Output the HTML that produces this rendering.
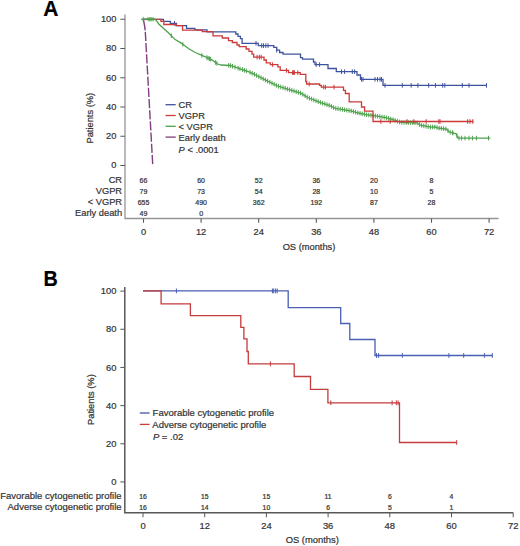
<!DOCTYPE html>
<html><head><meta charset="utf-8"><title>Kaplan-Meier</title>
<style>
html,body{margin:0;padding:0;background:#fff;}
body{width:520px;height:546px;overflow:hidden;}
svg{display:block;font-family:"Liberation Sans", sans-serif;}
text{stroke:#3a3a3a;stroke-width:0.22px;paint-order:stroke;}
</style></head><body>
<svg width="520" height="546" viewBox="0 0 520 546">
<rect width="520" height="546" fill="#fff"/>
<text transform="translate(43.3,16) scale(1,1.06)" font-weight="bold" font-size="21" fill="#000" stroke="#000" stroke-width="0.3">A</text>
<path d="M125.0,14.5 V218.5 H498.5" fill="none" stroke="#959595" stroke-width="1.3"/>
<text x="116.4" y="22.20" text-anchor="end" font-size="9.3" fill="#333333">100</text>
<text x="116.4" y="51.44" text-anchor="end" font-size="9.3" fill="#333333">80</text>
<text x="116.4" y="80.68" text-anchor="end" font-size="9.3" fill="#333333">60</text>
<text x="116.4" y="109.92" text-anchor="end" font-size="9.3" fill="#333333">40</text>
<text x="116.4" y="139.16" text-anchor="end" font-size="9.3" fill="#333333">20</text>
<text x="116.4" y="168.40" text-anchor="end" font-size="9.3" fill="#333333">0</text>
<path d="M120.3,19.30 H125.0 M120.3,48.54 H125.0 M120.3,77.78 H125.0 M120.3,107.02 H125.0 M120.3,136.26 H125.0 M120.3,165.50 H125.0 " stroke="#5a5a5a" stroke-width="1.1"/>
<text x="143.50" y="234.6" text-anchor="middle" font-size="9.3" fill="#333333">0</text>
<text x="201.10" y="234.6" text-anchor="middle" font-size="9.3" fill="#333333">12</text>
<text x="258.70" y="234.6" text-anchor="middle" font-size="9.3" fill="#333333">24</text>
<text x="316.30" y="234.6" text-anchor="middle" font-size="9.3" fill="#333333">36</text>
<text x="373.90" y="234.6" text-anchor="middle" font-size="9.3" fill="#333333">48</text>
<text x="431.50" y="234.6" text-anchor="middle" font-size="9.3" fill="#333333">60</text>
<text x="489.10" y="234.6" text-anchor="middle" font-size="9.3" fill="#333333">72</text>
<path d="M143.50,218.5 V222.8 M201.10,218.5 V222.8 M258.70,218.5 V222.8 M316.30,218.5 V222.8 M373.90,218.5 V222.8 M431.50,218.5 V222.8 M489.10,218.5 V222.8 " stroke="#5a5a5a" stroke-width="1.1"/>
<text x="309" y="250.3" text-anchor="middle" font-size="9.3" fill="#333333">OS (months)</text>
<text transform="translate(93.3,118.2) rotate(-90)" text-anchor="middle" font-size="9.3" fill="#333333">Patients (%)</text>
<text x="122.1" y="183.40" text-anchor="end" font-size="9.3" fill="#333333">CR</text>
<text x="143.50" y="182.80" text-anchor="middle" font-size="7" fill="#333">66</text>
<text x="201.10" y="182.80" text-anchor="middle" font-size="7" fill="#333">60</text>
<text x="258.70" y="182.80" text-anchor="middle" font-size="7" fill="#333">52</text>
<text x="316.30" y="182.80" text-anchor="middle" font-size="7" fill="#333">36</text>
<text x="373.90" y="182.80" text-anchor="middle" font-size="7" fill="#333">20</text>
<text x="431.50" y="182.80" text-anchor="middle" font-size="7" fill="#333">8</text>
<text x="122.1" y="194.30" text-anchor="end" font-size="9.3" fill="#333333">VGPR</text>
<text x="143.50" y="193.70" text-anchor="middle" font-size="7" fill="#333">79</text>
<text x="201.10" y="193.70" text-anchor="middle" font-size="7" fill="#333">73</text>
<text x="258.70" y="193.70" text-anchor="middle" font-size="7" fill="#333">54</text>
<text x="316.30" y="193.70" text-anchor="middle" font-size="7" fill="#333">28</text>
<text x="373.90" y="193.70" text-anchor="middle" font-size="7" fill="#333">10</text>
<text x="431.50" y="193.70" text-anchor="middle" font-size="7" fill="#333">5</text>
<text x="122.1" y="205.20" text-anchor="end" font-size="9.3" fill="#333333">< VGPR</text>
<text x="143.50" y="204.60" text-anchor="middle" font-size="7" fill="#333">655</text>
<text x="201.10" y="204.60" text-anchor="middle" font-size="7" fill="#333">490</text>
<text x="258.70" y="204.60" text-anchor="middle" font-size="7" fill="#333">362</text>
<text x="316.30" y="204.60" text-anchor="middle" font-size="7" fill="#333">192</text>
<text x="373.90" y="204.60" text-anchor="middle" font-size="7" fill="#333">87</text>
<text x="431.50" y="204.60" text-anchor="middle" font-size="7" fill="#333">28</text>
<text x="122.1" y="216.10" text-anchor="end" font-size="9.3" fill="#333333">Early death</text>
<text x="143.50" y="215.50" text-anchor="middle" font-size="7" fill="#333">49</text>
<text x="201.10" y="215.50" text-anchor="middle" font-size="7" fill="#333">0</text>
<path d="M165.5,104.70 H175.7" stroke="#3e539e" stroke-width="1.3"/>
<text x="178.6" y="108.00" font-size="9.3" fill="#333333">CR</text>
<path d="M165.5,115.50 H175.7" stroke="#cc3a3a" stroke-width="1.3"/>
<text x="178.6" y="119.00" font-size="9.3" fill="#333333">VGPR</text>
<path d="M165.5,126.30 H175.7" stroke="#4ea24e" stroke-width="1.3"/>
<text x="178.6" y="130.00" font-size="9.3" fill="#333333">< VGPR</text>
<path d="M165.5,137.10 H175.7" stroke="#7f3f80" stroke-width="1.3"/>
<text x="178.6" y="141.00" font-size="9.3" fill="#333333">Early death</text>
<text x="178.6" y="153.00" font-size="9.3" fill="#333333"><tspan font-style="italic">P</tspan> &lt; .0001</text>
<path d="M143.5,19.3 L155.6,19.6 L158.8,24.0 L163.6,28.5 L168.4,32.8 L171.8,36.2 L175.2,39.6 L180.0,42.4 L184.8,45.8 L189.6,49.2 L195.3,52.5 L202.0,55.4 L211.5,59.6 L217.7,64.0 L221.0,65.0 L230.4,65.5 L240.0,68.8 L247.7,71.4 L253.0,73.6 L266.2,80.4 L277.7,86.0 L289.2,89.6 L300.8,93.1 L307.7,97.5 L320.0,102.3 L329.2,105.4 L335.4,108.3 L350.8,110.8 L358.5,113.0 L366.2,114.6 L377.0,116.2 L384.6,117.4 L392.3,119.4 L400.8,122.4 L417.0,122.8 L420.4,125.2 L430.8,127.2 L435.4,126.8 L438.0,128.0 L446.8,129.0 L448.8,131.8 L456.2,133.8 L457.9,138.1 L490.4,138.1" fill="none" stroke="#4ea24e" stroke-width="1.3"/>
<path d="M171.3,33.4 V38.0 M182.8,42.1 V46.7 M201.9,53.1 V57.7 M206.9,55.3 V59.9 M208.1,55.8 V60.4 M209.4,56.4 V61.0 M210.6,56.9 V61.5 M215.6,60.2 V64.8 M216.9,61.1 V65.7 M228.7,63.1 V67.7 M230.6,63.3 V67.9 M232.5,63.9 V68.5 M235.0,64.8 V69.4 M238.1,65.8 V70.4 M240.0,66.5 V71.1 M242.5,67.3 V71.9 M244.4,68.0 V72.6 M246.3,68.6 V73.2 M250.0,70.1 V74.7 M252.2,71.0 V75.6 M254.4,72.0 V76.6 M256.6,73.2 V77.8 M258.8,74.3 V78.9 M261.0,75.4 V80.0 M263.2,76.6 V81.2 M265.4,77.7 V82.3 M267.6,78.8 V83.4 M269.8,79.9 V84.5 M272.0,80.9 V85.5 M274.2,82.0 V86.6 M276.4,83.1 V87.7 M278.6,84.0 V88.6 M280.8,84.7 V89.3 M283.0,85.4 V90.0 M285.2,86.0 V90.6 M287.4,86.7 V91.3 M289.6,87.4 V92.0 M291.8,88.1 V92.7 M294.0,88.7 V93.3 M296.2,89.4 V94.0 M298.4,90.1 V94.7 M300.6,90.7 V95.3 M302.8,92.1 V96.7 M305.0,93.5 V98.1 M307.2,94.9 V99.5 M309.4,95.9 V100.5 M311.6,96.7 V101.3 M313.8,97.6 V102.2 M316.0,98.4 V103.0 M318.2,99.3 V103.9 M320.4,100.1 V104.7 M322.6,100.9 V105.5 M324.8,101.6 V106.2 M327.0,102.4 V107.0 M329.2,103.1 V107.7 M331.4,104.1 V108.7 M333.6,105.2 V109.8 M335.8,106.1 V110.7 M338.0,106.4 V111.0 M340.2,106.8 V111.4 M342.4,107.1 V111.7 M344.6,107.5 V112.1 M346.8,107.9 V112.5 M349.0,108.2 V112.8 M351.2,108.6 V113.2 M353.4,109.2 V113.8 M355.6,109.9 V114.5 M357.8,110.5 V115.1 M360.0,111.0 V115.6 M362.2,111.5 V116.1 M364.4,111.9 V116.5 M366.6,112.4 V117.0 M368.8,112.7 V117.3 M371.0,113.0 V117.6 M373.2,113.3 V117.9 M375.4,113.7 V118.3 M377.6,114.0 V118.6 M379.8,114.3 V118.9 M382.0,114.7 V119.3 M384.2,115.0 V119.6 M386.4,115.6 V120.2 M388.6,116.1 V120.7 M390.8,116.7 V121.3 M393.0,117.3 V121.9 M395.2,118.1 V122.7 M397.4,118.9 V123.5 M399.6,119.7 V124.3 M401.8,120.1 V124.7 M404.0,120.2 V124.8 M406.2,120.2 V124.8 M408.4,120.3 V124.9 M410.6,120.3 V124.9 M412.8,120.4 V125.0 M415.0,120.5 V125.1 M417.2,120.6 V125.2 M419.4,122.2 V126.8 M421.6,123.1 V127.7 M423.8,123.6 V128.2 M426.0,124.0 V128.6 M428.2,124.4 V129.0 M430.4,124.8 V129.4 M432.6,124.7 V129.3 M434.8,124.6 V129.2 M437.0,125.2 V129.8 M439.2,125.8 V130.4 M441.4,126.1 V130.7 M443.6,126.3 V130.9 M445.8,126.6 V131.2 M448.0,128.4 V133.0 M450.2,129.9 V134.5 M452.4,130.5 V135.1 M452.9,130.6 V135.2 M456.9,133.3 V137.9 M459.0,135.8 V140.4 M461.6,135.8 V140.4 M465.0,135.8 V140.4 M469.0,135.8 V140.4 M472.4,135.8 V140.4 M476.4,135.8 V140.4 M488.5,135.8 V140.4 " stroke="#4ea24e" stroke-width="1"/>
<path d="M143.5,19.3 H163.4 V21.4 H170.3 V23.3 H176.5 V25.6 H186.5 V28.3 H194.9 V29.8 H207.0 V31.8 H235.8 V34.0 H238.0 V36.3 H240.4 V38.7 H242.1 V43.3 H258.3 V45.6 H273.8 V47.3 H276.7 V50.2 H279.6 V52.5 H283.0 V54.2 H300.5 V57.6 H302.5 V59.2 H313.5 V62.0 H315.0 V64.6 H328.0 V68.5 H336.3 V71.7 H357.0 V75.0 H360.5 V79.3 H383.0 V85.4 H486.5" fill="none" stroke="#3e539e" stroke-width="1.3"/>
<path d="M174.5,21.0 V25.6 M256.0,41.0 V45.6 M261.7,43.3 V47.9 M263.5,43.3 V47.9 M265.8,43.3 V47.9 M268.0,43.3 V47.9 M276.7,47.9 V52.5 M316.2,62.3 V66.9 M319.6,62.3 V66.9 M341.5,69.4 V74.0 M344.6,69.4 V74.0 M352.3,69.4 V74.0 M354.6,69.4 V74.0 M361.5,77.0 V81.6 M363.0,77.0 V81.6 M375.0,77.0 V81.6 M377.5,77.0 V81.6 M380.0,77.0 V81.6 M381.5,77.0 V81.6 M385.0,83.1 V87.7 M402.3,83.1 V87.7 M411.2,83.1 V87.7 M417.9,83.1 V87.7 M428.7,83.1 V87.7 M435.4,83.1 V87.7 M442.7,83.1 V87.7 M444.8,83.1 V87.7 M462.3,83.1 V87.7 M469.0,83.1 V87.7 M486.5,83.1 V87.7 " stroke="#3e539e" stroke-width="1"/>
<path d="M143.5,19.3 H160.9 V21.4 H163.8 V24.5 H176.0 V25.6 H182.5 V30.2 H202.3 V31.6 H213.0 V35.8 H222.3 V38.0 H228.5 V40.6 H232.3 V42.5 H237.0 V45.0 H239.2 V46.7 H246.2 V49.0 H249.0 V51.3 H252.0 V54.2 H253.7 V57.1 H264.0 V60.0 H266.3 V62.9 H270.4 V64.6 H277.9 V66.9 H280.2 V70.4 H288.5 V72.6 H300.2 V74.4 H305.8 V81.5 H306.6 V84.0 H319.6 V85.4 H321.3 V87.1 H343.5 V90.4 H345.4 V93.5 H349.2 V101.8 H361.5 V107.0 H364.6 V111.2 H373.0 V121.5 H473.5" fill="none" stroke="#cc3a3a" stroke-width="1.3"/>
<path d="M257.1,54.8 V59.4 M259.4,54.8 V59.4 M261.2,54.8 V59.4 M272.6,62.3 V66.9 M286.4,68.1 V72.7 M292.6,70.3 V74.9 M293.6,70.3 V74.9 M294.4,70.3 V74.9 M297.8,70.3 V74.9 M309.2,81.7 V86.3 M323.7,84.8 V89.4 M325.4,84.8 V89.4 M334.0,84.8 V89.4 M380.8,119.2 V123.8 M390.2,119.2 V123.8 M407.0,119.2 V123.8 M413.8,119.2 V123.8 M426.2,119.2 V123.8 M438.8,119.2 V123.8 M440.0,119.2 V123.8 M467.7,119.2 V123.8 M470.0,119.2 V123.8 M472.8,119.2 V123.8 " stroke="#cc3a3a" stroke-width="1"/>
<path d="M143.3,19.0 Q144.6,25 145.2,30.3" fill="none" stroke="#7f3f80" stroke-width="1.4"/>
<path d="M145.3,31.9 L152.7,164.2" fill="none" stroke="#7f3f80" stroke-width="1.4" stroke-dasharray="9.2,2.0"/>
<path d="M141.0,19.2 H156.2" fill="none" stroke="#4ea24e" stroke-width="1.3"/>
<path d="M143.2,16.8 V21.6 M148.1,17.1 V21.3 M149.6,17.1 V21.3 M150.8,17.1 V21.3 M151.9,17.1 V21.3 M153.2,17.1 V21.3" fill="none" stroke="#4ea24e" stroke-width="0.9"/>
<text transform="translate(43.6,286.2) scale(0.94,1.09)" font-weight="bold" font-size="21" fill="#000" stroke="#000" stroke-width="0.3">B</text>
<path d="M124.8,287 V512.7 H513.2" fill="none" stroke="#585858" stroke-width="1.5"/>
<text x="116.4" y="294.30" text-anchor="end" font-size="9.4" fill="#333333">100</text>
<text x="116.4" y="332.47" text-anchor="end" font-size="9.4" fill="#333333">80</text>
<text x="116.4" y="370.64" text-anchor="end" font-size="9.4" fill="#333333">60</text>
<text x="116.4" y="408.81" text-anchor="end" font-size="9.4" fill="#333333">40</text>
<text x="116.4" y="446.98" text-anchor="end" font-size="9.4" fill="#333333">20</text>
<text x="116.4" y="485.15" text-anchor="end" font-size="9.4" fill="#333333">0</text>
<path d="M120.3,291.10 H124.8 M120.3,329.27 H124.8 M120.3,367.44 H124.8 M120.3,405.61 H124.8 M120.3,443.78 H124.8 M120.3,481.95 H124.8 " stroke="#585858" stroke-width="1"/>
<text x="143.00" y="529.0" text-anchor="middle" font-size="9.4" fill="#333333">0</text>
<text x="204.70" y="529.0" text-anchor="middle" font-size="9.4" fill="#333333">12</text>
<text x="266.40" y="529.0" text-anchor="middle" font-size="9.4" fill="#333333">24</text>
<text x="328.10" y="529.0" text-anchor="middle" font-size="9.4" fill="#333333">36</text>
<text x="389.80" y="529.0" text-anchor="middle" font-size="9.4" fill="#333333">48</text>
<text x="451.50" y="529.0" text-anchor="middle" font-size="9.4" fill="#333333">60</text>
<text x="513.20" y="529.0" text-anchor="middle" font-size="9.4" fill="#333333">72</text>
<path d="M143.00,512.7 V517.3 M204.70,512.7 V517.3 M266.40,512.7 V517.3 M328.10,512.7 V517.3 M389.80,512.7 V517.3 M451.50,512.7 V517.3 M513.20,512.7 V517.3 " stroke="#585858" stroke-width="1"/>
<text x="312.3" y="543.0" text-anchor="middle" font-size="9.4" fill="#333333">OS (months)</text>
<text transform="translate(93.6,399.6) rotate(-90)" text-anchor="middle" font-size="9.3" fill="#333333">Patients (%)</text>
<text x="121.6" y="499.30" text-anchor="end" font-size="9.5" fill="#333333">Favorable cytogenetic profile</text>
<text x="143.00" y="498.90" text-anchor="middle" font-size="6.8" fill="#333">16</text>
<text x="204.70" y="498.90" text-anchor="middle" font-size="6.8" fill="#333">15</text>
<text x="266.40" y="498.90" text-anchor="middle" font-size="6.8" fill="#333">15</text>
<text x="328.10" y="498.90" text-anchor="middle" font-size="6.8" fill="#333">11</text>
<text x="389.80" y="498.90" text-anchor="middle" font-size="6.8" fill="#333">6</text>
<text x="451.50" y="498.90" text-anchor="middle" font-size="6.8" fill="#333">4</text>
<text x="121.6" y="510.20" text-anchor="end" font-size="9.5" fill="#333333">Adverse cytogenetic profile</text>
<text x="143.00" y="509.80" text-anchor="middle" font-size="6.8" fill="#333">16</text>
<text x="204.70" y="509.80" text-anchor="middle" font-size="6.8" fill="#333">14</text>
<text x="266.40" y="509.80" text-anchor="middle" font-size="6.8" fill="#333">10</text>
<text x="328.10" y="509.80" text-anchor="middle" font-size="6.8" fill="#333">6</text>
<text x="389.80" y="509.80" text-anchor="middle" font-size="6.8" fill="#333">5</text>
<text x="451.50" y="509.80" text-anchor="middle" font-size="6.8" fill="#333">1</text>
<path d="M139.8,413 H149.6" stroke="#3e539e" stroke-width="1.3"/>
<path d="M139.8,424.4 H149.6" stroke="#cc3a3a" stroke-width="1.3"/>
<text x="152.6" y="416.4" font-size="9.5" fill="#333333">Favorable cytogenetic profile</text>
<text x="152.3" y="427.79999999999995" font-size="9.5" fill="#333333">Adverse cytogenetic profile</text>
<text x="152.9" y="439.9" font-size="9.5" fill="#333333"><tspan font-style="italic">P</tspan> = .02</text>
<path d="M143.0,290.9 H288.2 V307.7 H340.7 V323.5 H349.8 V339.5 H375.0 V355.5 H492.5" fill="none" stroke="#4a5fb3" stroke-width="1.3"/>
<path d="M176.4,288.5 V293.3 M272.4,288.5 V293.3 M273.7,288.5 V293.3 M275.6,288.5 V293.3 M277.2,288.5 V293.3 M376.5,353.1 V357.9 M378.6,353.1 V357.9 M402.3,353.1 V357.9 M448.9,353.1 V357.9 M463.7,353.1 V357.9 M484.4,353.1 V357.9 M492.3,353.1 V357.9 " stroke="#4a5fb3" stroke-width="1"/>
<path d="M143.0,290.9 H161.1 V303.9 H190.4 V315.7 H240.8 V327.3 H243.9 V338.8 H247.0 V351.5 H248.3 V363.8 H294.2 V376.5 H310.5 V389.4 H327.9 V402.8 H399.5 V442.5 H456.7" fill="none" stroke="#c43c3c" stroke-width="1.3"/>
<path d="M270.4,361.4 V366.2 M330.8,400.4 V405.2 M392.1,400.4 V405.2 M396.3,400.4 V405.2 M398.1,400.4 V405.2 M456.7,440.1 V444.9 " stroke="#c43c3c" stroke-width="1"/>
</svg>
</body></html>
